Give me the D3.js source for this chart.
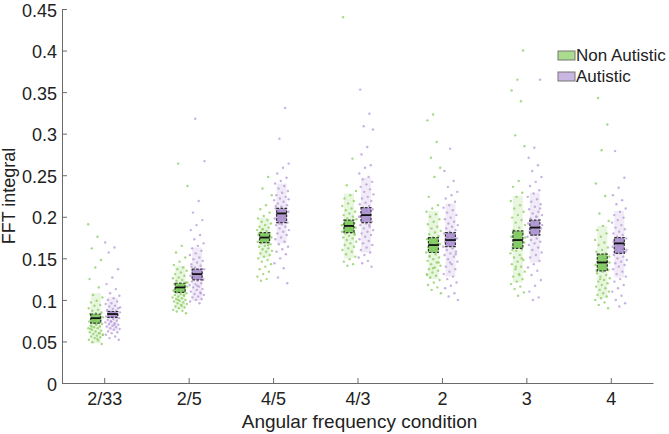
<!DOCTYPE html>
<html>
<head>
<meta charset="utf-8">
<script src="https://cdn.jsdelivr.net/npm/d3@7"></script>
<style>
  body { margin: 0; background: #fff; }
  text { font-family: "Liberation Sans", Arial, sans-serif; fill: #222; }
  .axis path, .axis line { stroke: #6a6a6a; }
</style>
</head>
<body>
<div id="chart"></div>
<script>
// categories and tick labels
const categories = ["2/33", "2/5", "4/5", "4/3", "2", "3", "4"];
const yTicks = [0, 0.05, 0.1, 0.15, 0.2, 0.25, 0.3, 0.35, 0.4, 0.45];
const groups = ["Non Autistic", "Autistic"];

// summary values (mean, SD box, CI box)
const meanNA = [0.078, 0.115, 0.175, 0.189, 0.166, 0.172, 0.145];
const sdLoNA = [0.048, 0.089, 0.151, 0.150, 0.125, 0.121, 0.102];
const sdHiNA = [0.108, 0.141, 0.199, 0.228, 0.207, 0.225, 0.189];
const ciLoNA = [0.072, 0.109, 0.169, 0.181, 0.157, 0.162, 0.135];
const ciHiNA = [0.083, 0.120, 0.181, 0.196, 0.175, 0.183, 0.155];

const meanA = [0.083, 0.131, 0.204, 0.202, 0.172, 0.187, 0.168];
const sdLoA = [0.063, 0.099, 0.168, 0.157, 0.128, 0.145, 0.127];
const sdHiA = [0.103, 0.163, 0.240, 0.247, 0.216, 0.229, 0.207];
const ciLoA = [0.079, 0.124, 0.193, 0.193, 0.164, 0.178, 0.156];
const ciHiA = [0.086, 0.137, 0.210, 0.211, 0.181, 0.196, 0.175];

// individual points (estimated from the scatter)
const ptsNA = [
  [0.191,0.176,0.162,0.148,0.139,0.125,0.115,0.106,0.103,0.099,0.097,0.094,0.093,0.09,0.088,0.087,0.085,0.084,0.083,0.081,0.08,0.079,0.078,0.077,0.076,0.076,0.074,0.073,0.072,0.071,0.071,0.069,0.068,0.067,0.066,0.066,0.064,0.063,0.062,0.061,0.06,0.059,0.058,0.057,0.056,0.055,0.054,0.052,0.051,0.049,0.047,0.07,0.065,0.06,0.074,0.058,0.053,0.068],
  [0.264,0.237,0.165,0.157,0.151,0.146,0.142,0.139,0.137,0.135,0.133,0.131,0.129,0.127,0.126,0.124,0.123,0.121,0.12,0.119,0.118,0.117,0.116,0.115,0.114,0.113,0.112,0.111,0.11,0.109,0.108,0.107,0.106,0.105,0.104,0.103,0.102,0.101,0.1,0.099,0.098,0.097,0.096,0.095,0.094,0.092,0.091,0.09,0.088,0.087,0.086,0.084,0.118,0.112,0.106,0.1,0.121,0.093],
  [0.248,0.234,0.226,0.214,0.209,0.205,0.201,0.198,0.196,0.194,0.192,0.19,0.188,0.187,0.185,0.184,0.183,0.181,0.18,0.179,0.178,0.177,0.176,0.175,0.174,0.173,0.172,0.171,0.17,0.169,0.168,0.167,0.165,0.164,0.162,0.161,0.159,0.158,0.156,0.154,0.152,0.15,0.148,0.146,0.143,0.14,0.137,0.134,0.131,0.128,0.125,0.123,0.176,0.17,0.18,0.166,0.185],
  [0.44,0.27,0.238,0.231,0.226,0.222,0.219,0.216,0.213,0.21,0.208,0.206,0.204,0.202,0.2,0.198,0.197,0.195,0.194,0.192,0.191,0.19,0.189,0.188,0.187,0.186,0.185,0.184,0.183,0.182,0.181,0.18,0.178,0.177,0.175,0.174,0.172,0.17,0.168,0.166,0.164,0.162,0.16,0.158,0.155,0.152,0.149,0.146,0.143,0.141,0.19,0.185,0.196,0.18],
  [0.323,0.316,0.29,0.271,0.259,0.248,0.224,0.214,0.21,0.206,0.203,0.2,0.197,0.194,0.191,0.188,0.186,0.183,0.181,0.179,0.177,0.175,0.173,0.171,0.169,0.167,0.165,0.163,0.161,0.159,0.157,0.155,0.153,0.151,0.149,0.147,0.145,0.143,0.141,0.139,0.137,0.135,0.133,0.131,0.129,0.127,0.124,0.121,0.118,0.115,0.112,0.108,0.16,0.152,0.145,0.138,0.13],
  [0.4,0.365,0.352,0.339,0.298,0.285,0.243,0.236,0.229,0.224,0.219,0.214,0.21,0.206,0.202,0.199,0.196,0.193,0.19,0.187,0.184,0.181,0.179,0.176,0.174,0.171,0.169,0.166,0.164,0.161,0.159,0.156,0.154,0.151,0.148,0.146,0.143,0.14,0.137,0.134,0.131,0.128,0.125,0.122,0.119,0.116,0.113,0.109,0.105,0.16,0.15,0.14,0.175,0.13],
  [0.343,0.311,0.28,0.24,0.225,0.204,0.195,0.189,0.184,0.18,0.176,0.172,0.169,0.166,0.163,0.16,0.158,0.156,0.154,0.152,0.15,0.148,0.146,0.144,0.142,0.14,0.138,0.136,0.134,0.132,0.13,0.128,0.126,0.124,0.122,0.12,0.118,0.116,0.114,0.112,0.11,0.108,0.106,0.104,0.102,0.1,0.097,0.094,0.09,0.14,0.135,0.15,0.125,0.145]
];
const ptsA = [
  [0.169,0.163,0.157,0.137,0.127,0.119,0.113,0.108,0.105,0.102,0.1,0.098,0.096,0.095,0.093,0.092,0.09,0.089,0.088,0.087,0.086,0.085,0.084,0.083,0.082,0.081,0.08,0.08,0.079,0.078,0.077,0.076,0.075,0.074,0.073,0.072,0.071,0.07,0.069,0.068,0.067,0.066,0.065,0.064,0.062,0.061,0.06,0.058,0.056,0.054,0.052,0.083,0.087,0.079,0.074,0.091,0.07],
  [0.318,0.267,0.219,0.205,0.196,0.19,0.184,0.178,0.173,0.168,0.165,0.162,0.159,0.156,0.154,0.151,0.149,0.147,0.145,0.143,0.141,0.139,0.137,0.136,0.134,0.132,0.131,0.129,0.128,0.126,0.125,0.123,0.122,0.12,0.119,0.118,0.116,0.115,0.113,0.112,0.11,0.109,0.107,0.106,0.104,0.103,0.101,0.1,0.098,0.096,0.13,0.124,0.117,0.14,0.108],
  [0.331,0.294,0.264,0.259,0.252,0.247,0.243,0.24,0.237,0.234,0.231,0.229,0.226,0.224,0.222,0.22,0.218,0.216,0.214,0.212,0.21,0.209,0.207,0.206,0.204,0.203,0.201,0.2,0.198,0.197,0.195,0.193,0.191,0.19,0.188,0.186,0.184,0.182,0.18,0.178,0.175,0.173,0.17,0.167,0.164,0.161,0.158,0.155,0.15,0.144,0.138,0.127,0.12,0.205,0.213,0.199,0.192,0.221],
  [0.353,0.324,0.309,0.305,0.284,0.275,0.262,0.259,0.252,0.248,0.245,0.242,0.239,0.236,0.233,0.23,0.227,0.224,0.222,0.219,0.217,0.215,0.213,0.211,0.209,0.207,0.205,0.203,0.201,0.2,0.198,0.196,0.194,0.192,0.19,0.188,0.186,0.184,0.182,0.18,0.178,0.176,0.173,0.171,0.168,0.166,0.163,0.16,0.157,0.154,0.151,0.147,0.144,0.14,0.21,0.2,0.19,0.205],
  [0.282,0.255,0.243,0.236,0.23,0.226,0.222,0.218,0.214,0.211,0.208,0.205,0.202,0.199,0.197,0.194,0.192,0.19,0.188,0.186,0.184,0.182,0.18,0.178,0.176,0.174,0.172,0.17,0.168,0.166,0.164,0.162,0.16,0.158,0.156,0.154,0.152,0.149,0.146,0.143,0.14,0.137,0.134,0.131,0.128,0.125,0.121,0.117,0.114,0.108,0.104,0.1,0.175,0.168,0.155,0.145],
  [0.365,0.283,0.271,0.262,0.255,0.248,0.242,0.237,0.232,0.228,0.224,0.221,0.218,0.215,0.212,0.209,0.206,0.204,0.202,0.2,0.198,0.196,0.194,0.192,0.19,0.188,0.186,0.184,0.182,0.18,0.178,0.176,0.174,0.172,0.17,0.168,0.166,0.163,0.16,0.157,0.154,0.151,0.147,0.143,0.139,0.135,0.13,0.124,0.117,0.11,0.103,0.1,0.19,0.2,0.185,0.21],
  [0.279,0.247,0.235,0.226,0.22,0.215,0.21,0.206,0.202,0.199,0.196,0.193,0.19,0.187,0.185,0.182,0.18,0.178,0.176,0.174,0.172,0.17,0.168,0.166,0.164,0.162,0.16,0.158,0.156,0.154,0.152,0.15,0.148,0.146,0.144,0.142,0.14,0.137,0.134,0.131,0.128,0.125,0.122,0.118,0.114,0.11,0.105,0.1,0.096,0.092,0.17,0.165,0.175,0.16]
];

// 1: SIZES
const margin = { top: 9, right: 16, bottom: 51, left: 62 };
const width = 669 - margin.left - margin.right;
const height = 434 - margin.top - margin.bottom;

const svg = d3.select("#chart")
    .append("svg")
    .attr("width", width + margin.left + margin.right)
    .attr("height", height + margin.top + margin.bottom)
    .append("g")
    .attr("transform", `translate(${margin.left},${margin.top})`);

// 2: SCALES
const xScale = d3.scaleLinear().domain([0.5, categories.length + 0.5]).range([0, width]);
const yScale = d3.scaleLinear().domain([0, 0.45]).range([height, 0]);

const series = [
  { name: groups[0], off: -8.5, pts: ptsNA, mean: meanNA, sdLo: sdLoNA, sdHi: sdHiNA, ciLo: ciLoNA, ciHi: ciHiNA,
    dot: "#8fd064", light: "rgba(150,210,110,0.22)", dark: "#78c657", swatch: "#a9dc8c" },
  { name: groups[1], off: 8.5, pts: ptsA, mean: meanA, sdLo: sdLoA, sdHi: sdHiA, ciLo: ciLoA, ciHi: ciHiA,
    dot: "#b99ed9", light: "rgba(185,165,215,0.22)", dark: "#a68ccb", swatch: "#c9b6e2" }
];

const boxW = 10;

series.forEach(s => {
    categories.forEach((c, i) => {
        const cx = xScale(i + 1) + s.off;
        const g = svg.append("g");

        // SD box
        g.append("rect")
            .attr("x", cx - boxW / 2)
            .attr("width", boxW)
            .attr("y", yScale(s.sdHi[i]))
            .attr("height", yScale(s.sdLo[i]) - yScale(s.sdHi[i]))
            .attr("fill", s.light);

        // jittered points
        g.selectAll("circle")
            .data(s.pts[i])
            .enter()
            .append("circle")
            .attr("cx", (d, j) => cx + (((j * 0.618034 + i * 0.37) % 1) - 0.5) * 15)
            .attr("cy", d => yScale(d))
            .attr("r", 1.2)
            .attr("fill", s.dot)
            .attr("opacity", 0.8);

        // CI box
        g.append("rect")
            .attr("x", cx - boxW / 2)
            .attr("width", boxW)
            .attr("y", yScale(s.ciHi[i]))
            .attr("height", yScale(s.ciLo[i]) - yScale(s.ciHi[i]))
            .attr("fill", s.dark)
            .attr("fill-opacity", 0.85)
            .attr("stroke", "#333")
            .attr("stroke-width", 1.2)
            .attr("stroke-dasharray", "2.5,1.5");

        // mean line
        g.append("line")
            .attr("x1", cx - boxW / 2)
            .attr("x2", cx + boxW / 2)
            .attr("y1", yScale(s.mean[i]))
            .attr("y2", yScale(s.mean[i]))
            .attr("stroke", "#111")
            .attr("stroke-width", 1.8);
    });
});

// 3: AXES
svg.append("g")
    .attr("class", "axis")
    .attr("transform", `translate(0,${height})`)
    .call(d3.axisBottom(xScale)
        .tickValues(d3.range(1, categories.length + 1))
        .tickFormat(d => categories[d - 1])
        .tickSizeInner(-5).tickSizeOuter(0).tickPadding(9))
    .call(g => g.selectAll("text").style("font-size", "18px").attr("fill", "#222"));

svg.append("g")
    .attr("class", "axis")
    .call(d3.axisLeft(yScale)
        .tickValues(yTicks)
        .tickFormat(d => String(d))
        .tickSizeInner(-5).tickSizeOuter(0).tickPadding(5))
    .call(g => g.selectAll("text").style("font-size", "18px").attr("dy", "0.4em").attr("fill", "#222"));

// 4: LABELS
svg.append("text")
    .attr("x", width / 2 + 2)
    .attr("y", height + 45)
    .attr("text-anchor", "middle")
    .style("font-size", "19px")
    .text("Angular frequency condition");

svg.append("text")
    .attr("transform", "rotate(-90)")
    .attr("x", -height / 2)
    .attr("y", -margin.left + 15)
    .attr("text-anchor", "middle")
    .style("font-size", "18px")
    .text("FFT integral");

// legend
const legend = svg.selectAll(".legend")
    .data(series)
    .enter()
    .append("g")
    .attr("class", "legend")
    .attr("transform", (d, i) => `translate(${558 - margin.left}, ${51 - margin.top + i * 21})`);

legend.append("rect")
    .attr("width", 17)
    .attr("height", 9)
    .attr("fill", d => d.swatch)
    .attr("stroke", "#777")
    .attr("stroke-width", 1);

legend.append("text")
    .attr("x", 18)
    .attr("y", 10)
    .style("font-size", "17px")
    .text(d => d.name);
</script>
</body>
</html>
